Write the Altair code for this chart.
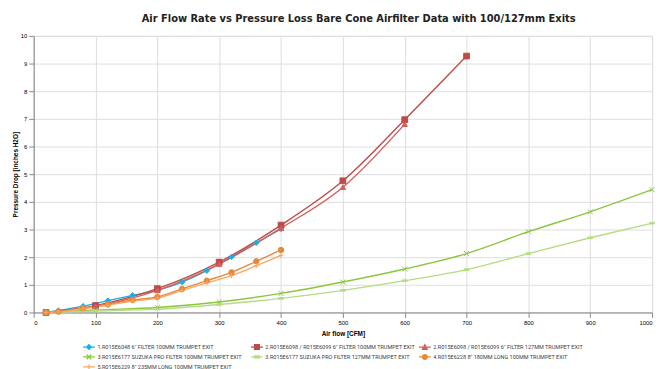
import altair as alt
import pandas as pd

# ---- data ----
keys = ["s1", "s2", "s3", "s4", "s5", "s6", "s7"]
labels = [
    '1.R015E6048 6" FILTER 100MM TRUMPET EXIT',
    '2.R015E6098 / R015E6099 6" FILTER 100MM TRUMPET EXIT',
    '2.R015E6098 / R015E6099 6" FILTER 127MM TRUMPET EXIT',
    '3.R015E6177 SUZUKA PRO FILTER 100MM TRUMPET EXIT',
    '3.R015E6177 SUZUKA PRO FILTER 127MM TRUMPET EXIT',
    '4.R015E6228 8" 180MM LONG 100MM TRUMPET EXIT',
    '5.R015E6229 8" 235MM LONG 100MM TRUMPET EXIT',
]
colors = ["#1AAEE5", "#BE4B48", "#D0605D", "#8CC63F", "#B5DC82", "#E8883A", "#F9A860"]

x1 = [20, 40, 80, 120, 160, 200, 240, 280, 320, 360, 400]
y1 = [0, 0.07, 0.23, 0.43, 0.62, 0.80, 1.10, 1.51, 2.01, 2.52, 3.02]

x2 = [20, 100, 200, 300, 400, 500, 600, 700]
y2 = [0, 0.25, 0.86, 1.82, 3.16, 4.76, 6.97, 9.27]

x3 = [20, 100, 200, 300, 400, 500, 600]
y3 = [0, 0.22, 0.80, 1.75, 3.05, 4.53, 6.81]

x4 = [20, 100, 200, 300, 400, 500, 600, 700, 800, 900, 1000]
y4 = [0, 0.09, 0.18, 0.38, 0.69, 1.10, 1.57, 2.13, 2.92, 3.64, 4.44]

x5 = [20, 100, 200, 300, 400, 500, 600, 700, 800, 900, 1000]
y5 = [0, 0.05, 0.12, 0.29, 0.51, 0.80, 1.15, 1.55, 2.13, 2.70, 3.23]

x6 = [20, 40, 80, 120, 160, 200, 240, 280, 320, 360, 400]
y6 = [0, 0.03, 0.16, 0.29, 0.45, 0.56, 0.85, 1.15, 1.45, 1.85, 2.26]

x7 = [20, 40, 80, 120, 160, 200, 240, 280, 320, 360, 400]
y7 = [0, 0.02, 0.13, 0.26, 0.41, 0.52, 0.80, 1.07, 1.33, 1.69, 2.07]

xs = [x1, x2, x3, x4, x5, x6, x7]
ys = [y1, y2, y3, y4, y5, y6, y7]

x_ticks = list(range(0, 1001, 100))
y_ticks = list(range(0, 11))

rows = []
for k, xa, ya in zip(keys, xs, ys):
    for a, b in zip(xa, ya):
        rows.append({"s": k, "x": a, "y": b})
df = pd.DataFrame(rows)

# plot markers
marker_paths = [
    "diamond",
    "square",
    "triangle-up",
    "M-1,-1L1,1M-1,1L1,-1",
    "M-1,-0.35H1V0.35H-1Z",
    "circle",
    "M-1,0H1M0,-1V1",
]
marker_sizes = [30, 34, 30, 26, 22, 30, 26]

# legend symbols: a short line with the marker in the middle
m = 0.6
legend_paths = [
    f"M-1.5,0H1.5M0,-{m}L{m},0L0,{m}L-{m},0Z",
    f"M-1.5,0H1.5M-{m},-{m}H{m}V{m}H-{m}Z",
    f"M-1.5,0H1.5M0,-{m}L{m},{m}H-{m}Z",
    f"M-1.5,0H1.5M-{m},-{m}L{m},{m}M-{m},{m}L{m},-{m}",
    f"M-1.5,0H1.5M-{m},-0.25H{m}V0.25H-{m}Z",
    f"M-1.5,0H1.5M-{m},0A{m},{m} 0 1,0 {m},0A{m},{m} 0 1,0 -{m},0Z",
    f"M-1.5,0H1.5M0,-{m}V{m}",
]

expr = repr(labels[-1])
for k, v in reversed(list(zip(keys[:-1], labels[:-1]))):
    expr = f"datum.value == '{k}' ? {v!r} : ({expr})"
label_expr = expr

color_scale = alt.Scale(domain=keys, range=colors)
legend_shape_scale = alt.Scale(domain=keys, range=legend_paths)

FONT = "DejaVu Sans"
LFONT = "Roboto"

xenc = alt.X(
    "x:Q",
    scale=alt.Scale(domain=[0, 1000], nice=False, zero=True),
    axis=alt.Axis(
        values=x_ticks, title="Air flow [CFM]", format="d",
        labelFontSize=6, titleFontSize=6.5, titlePadding=5,
    ),
)
yenc = alt.Y(
    "y:Q",
    scale=alt.Scale(domain=[0, 10], nice=False),
    axis=alt.Axis(
        values=y_ticks, title="Pressure Drop [inches H2O]", format="d",
        labelFontSize=6, titleFontSize=6.5, titleX=-18, titleY=140,
        titleAngle=270, titleAlign="center", titleBaseline="middle",
    ),
)

line_layers = []
point_layers = []
for k, c, shp, sz in zip(keys, colors, marker_paths, marker_sizes):
    base = alt.Chart(df).transform_filter(alt.datum.s == k)
    line_layers.append(
        base.mark_line(interpolate="monotone", strokeWidth=1.4, color=c).encode(x=xenc, y=yenc)
    )
    point_layers.append(
        base.mark_point(filled=True, shape=shp, size=sz, color=c, stroke=c, strokeWidth=1, opacity=1)
        .encode(x=xenc, y=yenc)
    )

legend_layer = (
    alt.Chart(df)
    .transform_filter("datum.x < -1")
    .mark_point(filled=True, strokeWidth=1.3, opacity=1)
    .encode(
        x=xenc,
        y=yenc,
        color=alt.Color(
            "s:N",
            scale=color_scale,
            legend=alt.Legend(
                orient="none",
                legendX=51,
                legendY=310,
                direction="horizontal",
                columns=3,
                gridAlign="all",
                title=None,
                padding=0,
                labelExpr=label_expr,
                labelFont=LFONT,
                labelFontSize=5.6,
                labelColor="#404040",
                labelOffset=3.5,
                symbolSize=64,
                symbolStrokeWidth=1.3,
                symbolOpacity=1,
                rowPadding=-1,
                columnPadding=0,
                labelLimit=400,
            ),
        ),
        stroke=alt.Stroke("s:N", scale=color_scale, legend=alt.Legend(title=None)),
        shape=alt.Shape("s:N", scale=legend_shape_scale, legend=alt.Legend(title=None)),
    )
)

chart = (
    alt.layer(*line_layers, *point_layers, legend_layer)
    .properties(
        width=626,
        height=280,
        autosize=alt.AutoSizeParams(type="none"),
        padding={"left": 26, "top": 26, "right": 6, "bottom": 55},
        title=alt.TitleParams(
            "Air Flow Rate vs Pressure Loss Bare Cone Airfilter Data with 100/127mm Exits",
            font=FONT,
            fontSize=10,
            fontWeight="bold",
            color="#222222",
            anchor="middle",
            dx=16,
            offset=9,
        ),
    )
    .configure_view(stroke="#8C8C8C", strokeWidth=1)
    .configure_axis(
        labelFont=FONT,
        labelColor="#595959",
        titleFont=FONT,
        titleFontWeight="bold",
        titleColor="#333333",
        gridColor="#A6A6A6",
        gridWidth=1.2,
        domainColor="#8C8C8C",
        tickColor="#8C8C8C",
        tickSize=3,
        labelPadding=2,
    )
    .configure(background="white")
)

chart.save("out.html", embed_options={"renderer": "svg", "actions": False})
